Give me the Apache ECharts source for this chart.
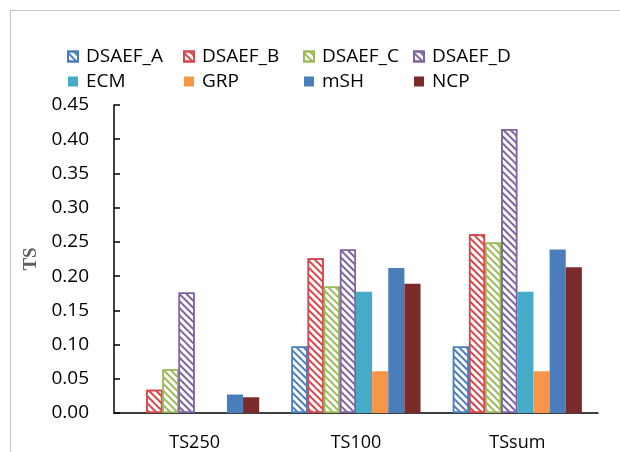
<!DOCTYPE html>
<html><head><meta charset="utf-8">
<script src="https://cdn.jsdelivr.net/npm/echarts@6/dist/echarts.min.js"></script>
<style>html,body{margin:0;padding:0;background:#fff}#c{width:620px;height:452px}</style>
</head><body><div id="c"></div>
<script>
var categories = ['TS250', 'TS100', 'TSsum'];
var seriesNames = ['DSAEF_A', 'DSAEF_B', 'DSAEF_C', 'DSAEF_D', 'ECM', 'GRP', 'mSH', 'NCP'];
var DSAEF_A = [null, 0.097, 0.097];
var DSAEF_B = [0.034, 0.226, 0.261];
var DSAEF_C = [0.064, 0.185, 0.249];
var DSAEF_D = [0.176, 0.239, 0.415];
var ECM = [null, 0.177, 0.177];
var GRP = [null, 0.061, 0.061];
var mSH = [0.027, 0.212, 0.239];
var NCP = [0.023, 0.189, 0.213];
var yTicks = ['0.00','0.05','0.10','0.15','0.20','0.25','0.30','0.35','0.40','0.45'];

var values = [DSAEF_A, DSAEF_B, DSAEF_C, DSAEF_D, ECM, GRP, mSH, NCP];
var colors = ['#4a7ebf', '#d8454b', '#9bbb59', '#8064a2', '#46abc8', '#f79646', '#4a7ebb', '#7b2a2a'];
var hatched = [true, true, true, true, false, false, false, false];
var FONT = "'Open Sans', sans-serif";

var series = seriesNames.map(function (n, i) {
  var s = {
    name: n, type: 'bar', data: values[i], barGap: '0%', barCategoryGap: '20%',
    itemStyle: {}
  };
  if (hatched[i]) {
    s.itemStyle = {
      color: '#ffffff', borderColor: colors[i], borderWidth: 1.5,
      decal: { symbol: 'rect', symbolSize: 1, dashArrayX: [1, 0], dashArrayY: [2, 2.6],
               rotation: Math.PI / 4, color: colors[i] }
    };
  } else {
    s.itemStyle = { color: colors[i] };
  }
  return s;
});

var cols = [62, 178, 298, 408];
var legends = cols.map(function (x, k) {
  return {
    orient: 'vertical', left: x, top: 42, itemWidth: 10, itemHeight: 10, itemGap: 6,
    icon: 'rect', data: [seriesNames[k], seriesNames[k + 4]],
    textStyle: { fontFamily: FONT, fontSize: 19, color: '#000', padding: [0, 0, 0, 3] }
  };
});

var chart = echarts.init(document.getElementById('c'), null, { renderer: 'canvas' });
chart.setOption({
  animation: false,
  backgroundColor: '#fff',
  legend: legends,
  graphic: [{ type: 'rect', shape: { x: 10.5, y: 10.5, width: 800, height: 800 },
              style: { fill: 'none', stroke: '#c4c4c4', lineWidth: 1 }, silent: true }],
  grid: { left: 114, right: 22, top: 105, bottom: 37 },
  xAxis: {
    type: 'category', data: categories,
    axisLine: { lineStyle: { color: '#000', width: 1.5 } },
    axisTick: { inside: true, length: 7, lineStyle: { color: '#000', width: 1.5 } },
    axisLabel: { fontFamily: FONT, fontSize: 18, color: '#000', margin: 21 }
  },
  yAxis: {
    type: 'value', min: 0, max: 0.45, interval: 0.05,
    name: 'TS', nameLocation: 'middle', nameGap: 66, nameRotate: 90,
    nameTextStyle: { fontFamily: "'Liberation Serif', serif", fontWeight: 'bold', fontSize: 19, color: '#606060' },
    splitLine: { show: false },
    axisLine: { show: true, lineStyle: { color: '#000', width: 1.5 } },
    axisTick: { show: true, inside: true, length: 6, lineStyle: { color: '#000', width: 1.5 } },
    axisLabel: { fontFamily: FONT, fontSize: 19, color: '#000', margin: 25,
      formatter: function (v) { return yTicks[Math.round(v / 0.05)]; } }
  },
  series: series
});
</script></body></html>
